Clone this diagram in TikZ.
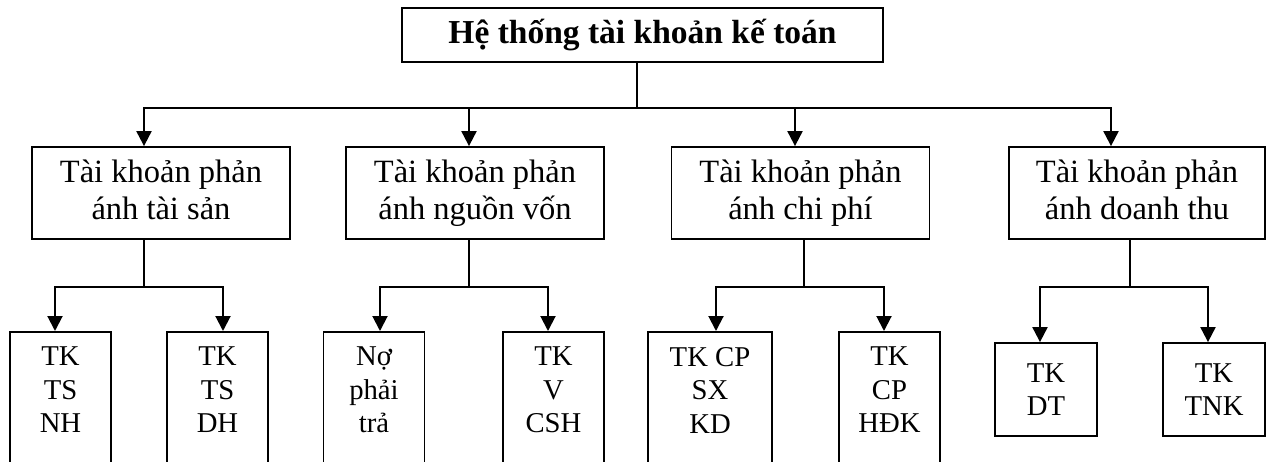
\documentclass[tikz,border=0pt]{standalone}
\usepackage{fontspec}
\setmainfont{Liberation Serif}
\usetikzlibrary{arrows.meta}
\begin{document}
\begin{tikzpicture}[x=1pt,y=-1pt,
  box/.style={draw, line width=1.8pt, inner sep=0pt},
  headbox/.style={box, minimum width=481pt, minimum height=54pt,
    font=\fontsize{33.5}{38}\selectfont\bfseries},
  groupbox/.style={box, minimum width=258pt, minimum height=92pt, align=center,
    font=\fontsize{32.5}{37}\selectfont},
  leafbox/.style={box, minimum width=101pt, minimum height=150pt, anchor=north},
  shortleaf/.style={box, minimum width=102pt, minimum height=93pt, align=center,
    font=\fontsize{28.7}{33.5}\selectfont},
  leaftext/.style={align=center, inner sep=0pt, anchor=north,
    font=\fontsize{28.7}{33.5}\selectfont},
  stem/.style={line width=1.3pt},
  bus/.style={line width=2pt, line cap=rect},
  drop/.style={line width=2pt, -{Triangle[length=15pt,width=15pt]}},
]
\useasboundingbox (0,0) rectangle (1272,461);

% root
\node[headbox] (top) at (642.5,35) {Hệ thống tài khoản kế toán};

% account groups
\node[groupbox] (g1) at (161,193)    {Tài khoản phản\\ánh tài sản\vphantom{g}};
\node[groupbox] (g2) at (475,193)    {Tài khoản phản\\ánh nguồn vốn\vphantom{g}};
\node[groupbox] (g3) at (800.5,193)  {Tài khoản phản\\ánh chi phí\vphantom{g}};
\node[groupbox, minimum width=256pt] (g4) at (1137,193) {Tài khoản phản\\ánh doanh thu\vphantom{g}};

% detailed accounts
\node[leafbox] (l1) at (60.5,331) {};
\node[leafbox] (l2) at (217.5,331) {};
\node[leafbox] (l3) at (374,331) {};
\node[leafbox] (l4) at (553.5,331) {};
\node[leafbox, minimum width=124pt] (l5) at (710,331) {};
\node[leafbox] (l6) at (889.5,331) {};
\node[shortleaf] (l7) at (1046,389.5) {TK\\DT};
\node[shortleaf] (l8) at (1214,389.5) {TK\\TNK};

\node[leaftext] (t1) at ([yshift=-16pt]l1.north) {TK\\TS\\NH};
\node[leaftext] (t2) at ([yshift=-16pt]l2.north) {TK\\TS\\DH};
\node[leaftext] (t3) at ([yshift=-16pt]l3.north) {Nợ\\phải\\trả};
\node[leaftext] (t4) at ([yshift=-16pt]l4.north) {TK\\V\\CSH};
\node[leaftext] (t5) at ([yshift=-16pt]l5.north) {TK CP\\SX\\KD};
\node[leaftext] (t6) at ([yshift=-16pt]l6.north) {TK\\CP\\HĐK};

% root to groups
\coordinate (hub) at (637,108);
\coordinate (d1) at (144,108);
\coordinate (d2) at (469,108);
\coordinate (d3) at (795,108);
\coordinate (d4) at (1111,108);
\draw[stem] (top.south -| hub) -- (hub);
\draw[bus] (d1) -- (d4);
\draw[drop] (d1) -- (d1 |- g1.north);
\draw[drop] (d2) -- (d2 |- g2.north);
\draw[drop] (d3) -- (d3 |- g3.north);
\draw[drop] (d4) -- (d4 |- g4.north);

% groups to detailed accounts
\coordinate (j1) at (144,287);
\coordinate (j2) at (469,287);
\coordinate (j3) at (804,287);
\coordinate (j4) at (1130,287);
\coordinate (a1) at (55,287);   \coordinate (b1) at (223,287);
\coordinate (a2) at (380,287);  \coordinate (b2) at (548,287);
\coordinate (a3) at (716,287);  \coordinate (b3) at (884,287);
\coordinate (a4) at (1040,287); \coordinate (b4) at (1208,287);

\draw[stem] (g1.south -| j1) -- (j1);
\draw[stem] (g2.south -| j2) -- (j2);
\draw[stem] (g3.south -| j3) -- (j3);
\draw[stem] (g4.south -| j4) -- (j4);

\draw[bus] (a1) -- (b1);
\draw[bus] (a2) -- (b2);
\draw[bus] (a3) -- (b3);
\draw[bus] (a4) -- (b4);

\draw[drop] (a1) -- (a1 |- l1.north);
\draw[drop] (b1) -- (b1 |- l2.north);
\draw[drop] (a2) -- (a2 |- l3.north);
\draw[drop] (b2) -- (b2 |- l4.north);
\draw[drop] (a3) -- (a3 |- l5.north);
\draw[drop] (b3) -- (b3 |- l6.north);
\draw[drop] (a4) -- (a4 |- l7.north);
\draw[drop] (b4) -- (b4 |- l8.north);
\end{tikzpicture}
\end{document}
